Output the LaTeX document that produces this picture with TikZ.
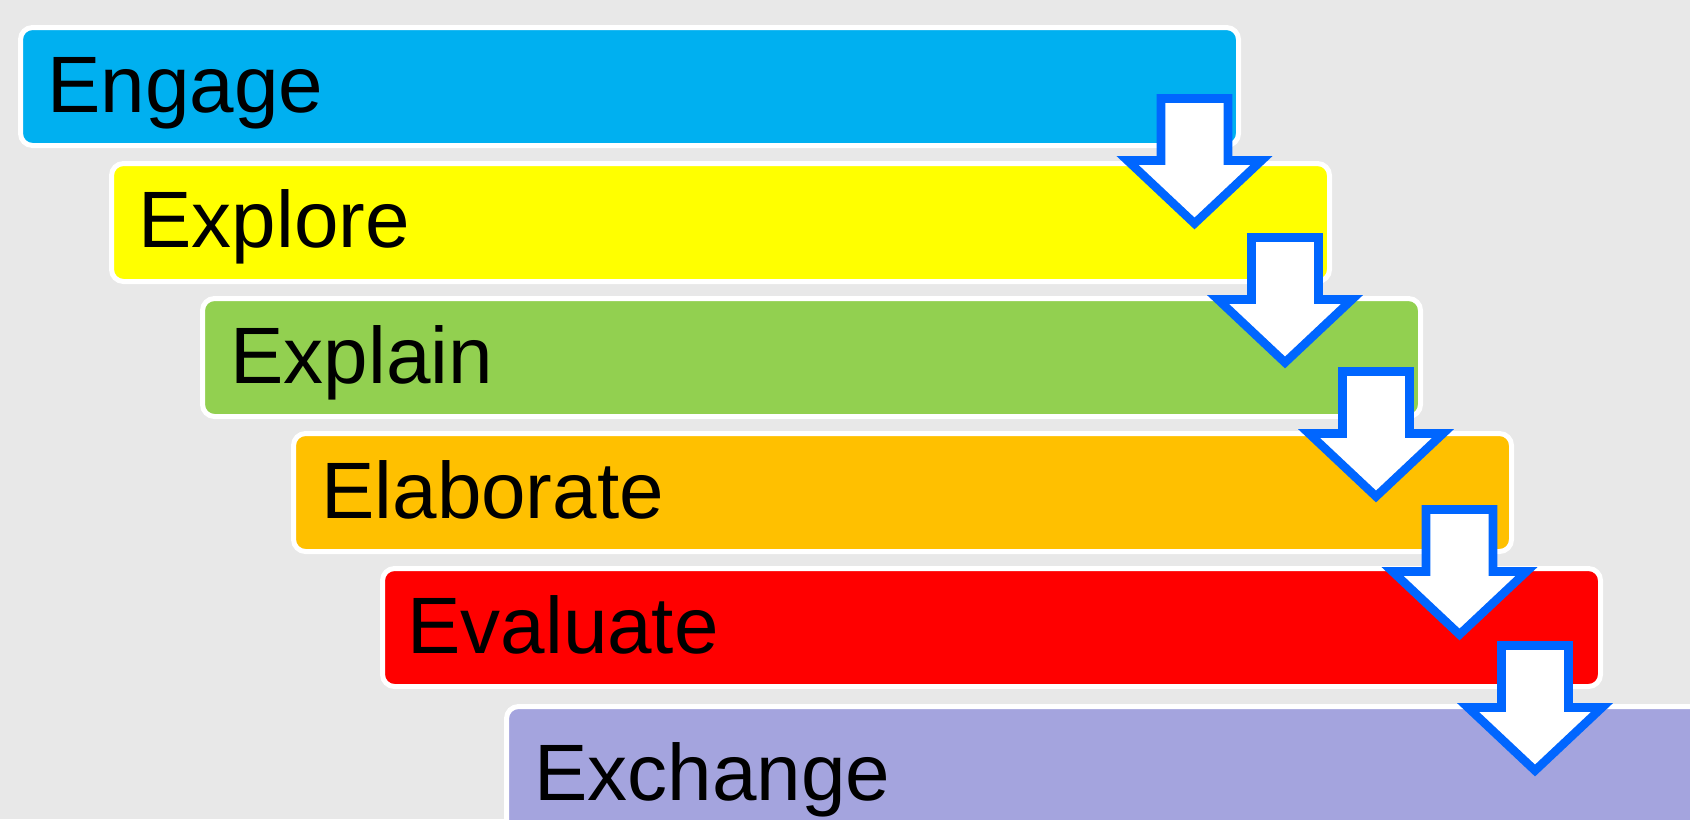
\documentclass[tikz,border=0pt]{standalone}
\usepackage{fontspec}
\setmainfont{Liberation Sans}
\definecolor{bgcol}{HTML}{E8E8E8}
\definecolor{engagecol}{HTML}{00B0F0}
\definecolor{explorecol}{HTML}{FFFF00}
\definecolor{explaincol}{HTML}{92D050}
\definecolor{elaboratecol}{HTML}{FFC000}
\definecolor{evaluatecol}{HTML}{FF0000}
\definecolor{exchangecol}{HTML}{A4A4DE}
\definecolor{arrowblue}{HTML}{0066FF}
\tikzset{
  pics/downarrow/.style={code={
    \fill[black, opacity=0.18] (-33.5,3) -- (33.5,3) -- (33.5,65) -- (67,65) -- (0,128)
      -- (-67,65) -- (-33.5,65) -- cycle;
    \draw[arrowline] (-33.5,0) -- (33.5,0) -- (33.5,62) -- (67,62) -- (0,125)
      -- (-67,62) -- (-33.5,62) -- cycle;
  }}
}
\begin{document}
\begin{tikzpicture}[x=0.5pt,y=-0.5pt,
    stepbox/.style={rectangle, rounded corners=6pt, draw=white, line width=2.5pt,
      inner sep=0pt, outer sep=0pt, minimum width=609pt, minimum height=59pt, anchor=north west},
    steptext/.style={anchor=base west, inner sep=0pt, font=\fontsize{40}{48}\selectfont},
    arrowline/.style={draw=arrowblue, fill=white, line width=4.3pt, line join=miter}]
  \fill[bgcol] (0,0) rectangle (1690,819);
  \clip (0,0) rectangle (1690,819);
  % the six steps
  \node[stepbox, fill=engagecol] (engage) at (20.5,27.5) {};
  \node[stepbox, fill=explorecol] (explore) at (111.5,163.5) {};
  \node[stepbox, fill=explaincol] (explain) at (202.5,298.5) {};
  \node[stepbox, fill=elaboratecol] (elaborate) at (293.5,433.5) {};
  \node[stepbox, fill=evaluatecol] (evaluate) at (382.5,568.5) {};
  \node[stepbox, fill=exchangecol, minimum width=700pt, minimum height=100pt] (exchange) at (506.5,706.5) {};
  \node[steptext] (engage-lbl) at (47,112) {Engage};
  \node[steptext] (explore-lbl) at (138,247) {Explore};
  \node[steptext] (explain-lbl) at (230,383) {Explain};
  \node[steptext] (elaborate-lbl) at (321,518) {Elaborate};
  \node[steptext] (evaluate-lbl) at (407,653) {Evaluate};
  \node[steptext] (exchange-lbl) at (534,800) {Exchange};
  % arrows between the steps
  \pic at (1194.5,98.5) {downarrow};
  \pic at (1285,237.5) {downarrow};
  \pic at (1376,371.5) {downarrow};
  \pic at (1459.5,509.5) {downarrow};
  \pic at (1535,645.5) {downarrow};
\end{tikzpicture}
\end{document}
